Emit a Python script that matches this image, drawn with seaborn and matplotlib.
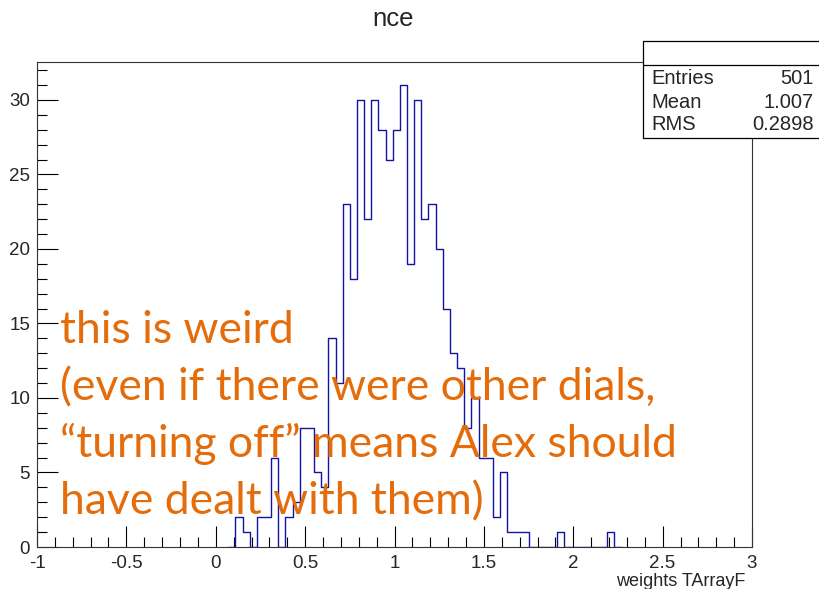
import numpy as np
import pandas as pd
import matplotlib
matplotlib.use("Agg")
import matplotlib.pyplot as plt
import seaborn as sns
from matplotlib.ticker import MultipleLocator
from matplotlib.patches import Rectangle
from matplotlib.lines import Line2D

# bin contents (bins of 0.04 starting at 0.11)
bin_start = 0.11
bin_width = 0.04
counts = [2, 1, 0, 2, 2, 6, 0, 2, 3, 8, 8, 5, 4, 14, 11,
          23, 18, 30, 22, 30, 28, 26, 28, 31, 19, 30, 22, 23, 20, 16,
          13, 12, 8, 10, 6, 6, 2, 5, 1, 1, 1,
          0, 0, 0, 0, 1, 0, 0, 0, 0, 0, 0, 1]

stat_names = ["Entries", "Mean", "RMS"]
stat_values = ["501", "1.007", "0.2898"]

note_lines = ["this is weird",
              "(even if there were other dials,",
              "\u201cturning off\u201d means Alex should",
              "have dealt with them)"]

W, H = 819, 589

sns.set_style("white")
plt.rcParams["font.family"] = ["Liberation Sans", "DejaVu Sans"]

# pad one empty bin on each side so the outline drops to zero
padded = np.array([0] + counts + [0], dtype=float)
lo = bin_start - bin_width
hi = bin_start + bin_width * (len(counts) + 1)
centers = lo + bin_width * (np.arange(len(padded)) + 0.5)
df = pd.DataFrame({"x": centers, "w": padded})

fig = plt.figure(figsize=(W / 100, H / 100), dpi=100)
ax = fig.add_axes([37 / W, 1 - 547 / H, (752 - 37) / W, (547 - 62) / H])

sns.histplot(data=df, x="x", weights="w", binwidth=bin_width,
             binrange=(lo, hi), element="step", fill=False,
             color="#1414a0", linewidth=1.0, ax=ax)

ax.set_xlim(-1, 3)
ax.set_ylim(0, 1.05 * max(counts))
ax.set_xlabel("")
ax.set_ylabel("")

ax.xaxis.set_minor_locator(MultipleLocator(0.1))
ax.yaxis.set_major_locator(MultipleLocator(5))
ax.yaxis.set_minor_locator(MultipleLocator(1))
ax.set_xticks(np.arange(-1, 3.01, 0.5))
ax.set_xticklabels(["-1", "-0.5", "0", "0.5", "1", "1.5", "2", "2.5", "3"])
ax.tick_params(axis="both", which="both", direction="in", top=False,
               right=False, bottom=True, left=True, color="black",
               width=0.8, labelsize=13.5)
ax.tick_params(axis="both", which="major", length=15)
ax.tick_params(axis="both", which="minor", length=7.5)
ax.tick_params(axis="x", pad=6)
ax.tick_params(axis="y", pad=5)
for s in ax.spines.values():
    s.set_color("#333333")
    s.set_linewidth(0.8)

# title and axis title
fig.text(393 / W, 1 - 19 / H, "nce", ha="center", va="center", fontsize=18.5)
fig.text(745 / W, 1 - 582 / H, "weights TArrayF", ha="right", va="center",
         fontsize=13)

# stats box
box = Rectangle((643 / W, 1 - 138 / H), (W + 5 - 643) / W, (138 - 41) / H,
                transform=fig.transFigure, fill=True, facecolor="white",
                edgecolor="black", linewidth=0.9, clip_on=False, zorder=5)
fig.patches.append(box)
fig.lines.append(Line2D([643 / W, 1.0], [1 - 65 / H, 1 - 65 / H],
                        transform=fig.transFigure, color="black",
                        linewidth=0.9, zorder=6))
for i, (nm, val) in enumerate(zip(stat_names, stat_values)):
    yy = 1 - (79 + 23 * i) / H
    fig.text(651 / W, yy, nm, ha="left", va="center", fontsize=14.5, zorder=7)
    fig.text(814 / W, yy, val, ha="right", va="center", fontsize=14.5, zorder=7)

# orange note
for i, line in enumerate(note_lines):
    fig.text(60 / W, 1 - (343 + 57 * i) / H, line, ha="left", va="baseline",
             fontsize=32, color="#E46C0A", family=["Lato", "DejaVu Sans"],
             zorder=8)

fig.savefig("out.png", dpi=100)
